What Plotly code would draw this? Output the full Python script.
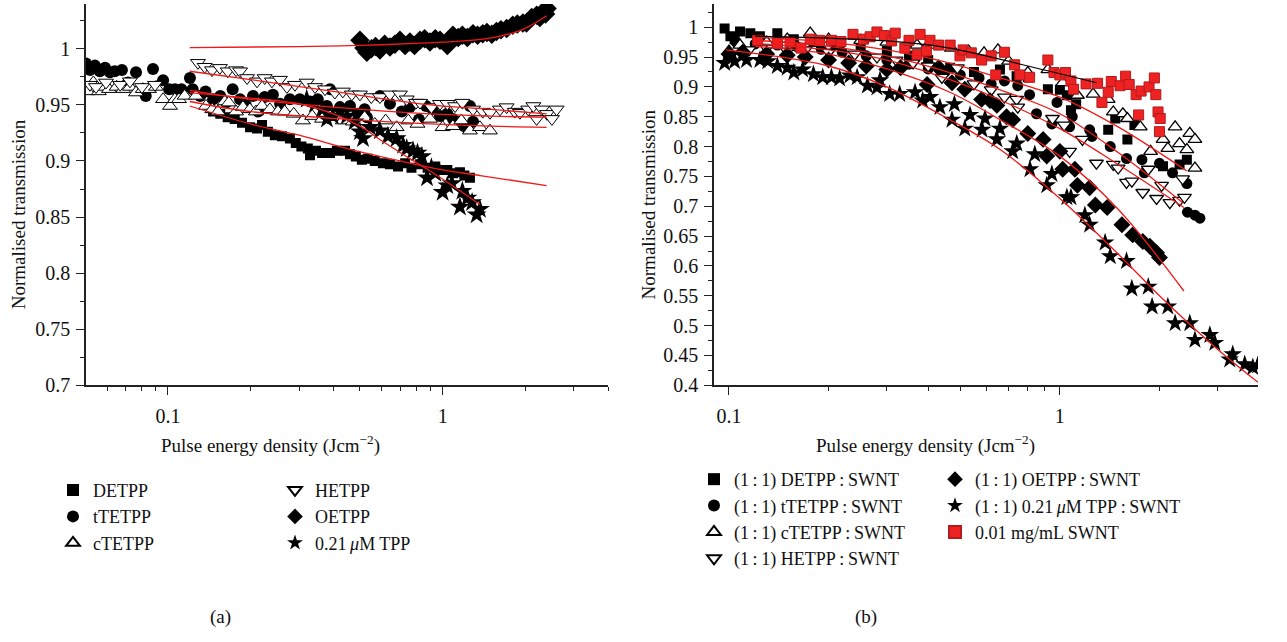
import plotly.graph_objects as go
import math

# ---------------- Panel (a) data ----------------
a_detpp_x = [0.146,0.155,0.165,0.175,0.186,0.199,0.211,0.22,0.231,0.245,0.26,0.278,0.292,0.306,0.323,0.329,0.346,0.364,0.389,0.412,0.441,0.46,0.483,0.508,0.534,0.566,0.606,0.643,0.688,0.73,0.77,0.827,0.882,0.94,0.978,1.04,1.09,1.156,1.2,1.257]
a_detpp_y = [0.944,0.942,0.939,0.9375,0.934,0.93,0.929,0.932,0.926,0.923,0.922,0.92,0.916,0.913,0.911,0.905,0.909,0.907,0.907,0.909,0.909,0.906,0.904,0.901,0.902,0.9,0.898,0.897,0.895,0.898,0.894,0.897,0.894,0.895,0.892,0.892,0.889,0.89,0.887,0.885]

a_ttetpp_x = [0.0503,0.052,0.0542,0.0565,0.059,0.0615,0.064,0.068,0.0715,0.0765,0.083,0.0882,0.096,0.101,0.106,0.112,0.1202,0.123,0.131,0.137,0.146,0.155,0.163,0.172,0.183,0.192,0.204,0.213,0.225,0.241,0.256,0.278,0.302,0.329,0.351,0.379,0.389,0.423,0.46,0.49,0.52,0.53,0.591,0.643,0.71,0.76,0.82,0.87,0.92,0.978,1.04,1.09,1.156,1.2,1.257,1.29]
a_ttetpp_y = [0.987,0.981,0.985,0.98,0.983,0.979,0.98,0.981,0.97,0.979,0.958,0.982,0.972,0.964,0.964,0.964,0.974,0.964,0.958,0.962,0.955,0.958,0.952,0.964,0.955,0.95,0.958,0.944,0.957,0.959,0.951,0.955,0.955,0.953,0.955,0.949,0.964,0.948,0.949,0.942,0.946,0.939,0.958,0.951,0.944,0.948,0.937,0.949,0.946,0.94,0.942,0.9375,0.935,0.931,0.949,0.935]

a_ctetpp_x = [0.051,0.0535,0.056,0.058,0.061,0.065,0.0687,0.0727,0.0765,0.081,0.0853,0.0905,0.096,0.1017,0.106,0.1097,0.115,0.1264,0.1375,0.145,0.152,0.161,0.1665,0.177,0.1875,0.1987,0.209,0.22,0.235,0.2515,0.266,0.287,0.31,0.335,0.364,0.398,0.433,0.471,0.52,0.566,0.62,0.68,0.75,0.81,0.899,1.0,1.09,1.17,1.257,1.367,1.487]
a_ctetpp_y = [0.962,0.97,0.962,0.966,0.964,0.966,0.964,0.966,0.961,0.964,0.964,0.966,0.955,0.949,0.955,0.955,0.958,0.958,0.949,0.946,0.944,0.953,0.952,0.944,0.948,0.946,0.944,0.949,0.946,0.944,0.944,0.942,0.936,0.94,0.9375,0.939,0.936,0.935,0.939,0.933,0.936,0.93,0.936,0.933,0.9375,0.93,0.931,0.936,0.927,0.93,0.927]

a_hetpp_x = [0.052,0.0547,0.0595,0.067,0.0727,0.0804,0.0897,0.1286,0.136,0.1447,0.1545,0.165,0.177,0.183,0.194,0.211,0.225,0.239,0.2556,0.271,0.29,0.32,0.343,0.373,0.405,0.433,0.467,0.5,0.55,0.591,0.643,0.699,0.74,0.8,0.827,0.91,0.978,1.04,1.11,1.18,1.29,1.4,1.487,1.617,1.71,1.83,1.912,2.05,2.14,2.2,2.3,2.4,2.5,2.6]
a_hetpp_y = [0.968,0.966,0.97,0.968,0.971,0.966,0.968,0.9875,0.984,0.981,0.983,0.98,0.981,0.98,0.974,0.971,0.974,0.971,0.9725,0.966,0.968,0.97,0.966,0.964,0.961,0.962,0.9594,0.9594,0.957,0.957,0.9594,0.9594,0.955,0.952,0.952,0.948,0.951,0.951,0.949,0.952,0.946,0.944,0.943,0.946,0.948,0.944,0.943,0.946,0.949,0.9375,0.946,0.942,0.9375,0.946]

a_oetpp_x = [0.5,0.517,0.53,0.55,0.57,0.591,0.615,0.643,0.67,0.699,0.73,0.76,0.79,0.827,0.86,0.899,0.94,0.978,1.04,1.09,1.14,1.18,1.23,1.29,1.34,1.4,1.45,1.51,1.57,1.63,1.71,1.8,1.87,1.96,2.02,2.11,2.2,2.26,2.34,2.37,2.4]
a_oetpp_y = [1.0076,1.0006,0.997,1.0,1.002,0.999,1.004,1.0015,1.004,1.0076,1.003,1.006,1.003,1.0076,1.009,1.006,1.009,1.0076,1.003,1.012,1.01,1.012,1.01,1.0135,1.012,1.0135,1.0145,1.013,1.0155,1.017,1.018,1.021,1.022,1.023,1.023,1.028,1.03,1.028,1.034,1.031,1.036]

a_tpp_x = [0.32,0.343,0.364,0.379,0.398,0.423,0.448,0.478,0.5,0.513,0.544,0.591,0.632,0.68,0.718,0.74,0.78,0.81,0.84,0.877,0.91,0.94,1.0,1.04,1.08,1.156,1.18,1.23,1.28,1.33,1.367]
a_tpp_y = [0.955,0.9507,0.946,0.9375,0.94,0.944,0.94,0.935,0.926,0.92,0.93,0.927,0.922,0.92,0.914,0.911,0.909,0.907,0.904,0.885,0.894,0.889,0.872,0.878,0.88,0.859,0.873,0.867,0.863,0.852,0.857]

# fits (a)
a_fit_hetpp_x = [0.12,0.2,0.4,0.9,1.5,2.39]
a_fit_hetpp_y = [0.980,0.9725,0.962,0.950,0.946,0.942]
a_fit_ttetpp_x = [0.12,0.2,0.4,0.9,1.5,2.39]
a_fit_ttetpp_y = [0.963,0.955,0.948,0.942,0.940,0.939]
a_fit_ctetpp_x = [0.12,0.2,0.4,0.9,1.5,2.39]
a_fit_ctetpp_y = [0.953,0.944,0.938,0.933,0.931,0.930]
a_fit_detpp_x = [0.12,0.2,0.3,0.45,0.7,1.0,1.37,2.39]
a_fit_detpp_y = [0.949,0.933,0.923,0.911,0.900,0.892,0.887,0.878]
a_fit_oetpp_x = [0.12,0.3,0.5,0.83,1.0,1.45,1.9,2.1,2.39]
a_fit_oetpp_y = [1.001,1.002,1.003,1.005,1.006,1.009,1.016,1.021,1.0295]
a_fit_tpp_x = [0.12,0.2,0.3,0.4,0.5,0.6,0.75,0.9,1.1,1.37]
a_fit_tpp_y = [0.961,0.956,0.951,0.942,0.931,0.918,0.903,0.891,0.877,0.861]

# ---------------- Panel (b) data ----------------
b_detpp_x = [0.097,0.101,0.104,0.108,0.116,0.124,0.14,0.157,0.18,0.21,0.25,0.3,0.35,0.4,0.466,0.55,0.659,0.74,0.8,0.92,1.0,1.05,1.08,1.12,1.4,1.47,1.6,1.68,2.05,2.3,2.42]
b_detpp_y = [0.998,0.985,0.98,0.993,0.99,0.985,0.99,0.98,0.975,0.97,0.965,0.96,0.952,0.945,0.932,0.925,0.929,0.918,0.916,0.896,0.895,0.886,0.861,0.871,0.828,0.847,0.812,0.836,0.767,0.77,0.778]

b_ttetpp_x = [0.105,0.12,0.14,0.16,0.19,0.22,0.26,0.3,0.35,0.4,0.45,0.5,0.57,0.62,0.68,0.746,0.81,0.85,0.946,0.98,1.07,1.09,1.23,1.25,1.42,1.59,1.77,1.8,2.0,2.19,2.42,2.43,2.56,2.65]
b_ttetpp_y = [0.975,0.972,0.97,0.968,0.963,0.958,0.952,0.945,0.938,0.93,0.925,0.92,0.915,0.905,0.91,0.902,0.887,0.855,0.838,0.874,0.833,0.85,0.828,0.817,0.8,0.78,0.778,0.756,0.772,0.756,0.738,0.69,0.685,0.68]

b_ctetpp_x = [0.1,0.108,0.13,0.15,0.176,0.2,0.25,0.3,0.35,0.37,0.4,0.47,0.53,0.59,0.65,0.7,0.8,0.92,1.02,1.13,1.26,1.4,1.45,1.55,1.6,1.75,1.88,2.05,2.12,2.23,2.3,2.42,2.47,2.56,2.56]
b_ctetpp_y = [0.96,0.97,0.975,0.98,0.99,0.98,0.978,0.975,0.972,0.97,0.97,0.965,0.96,0.957,0.962,0.943,0.924,0.929,0.907,0.886,0.888,0.879,0.858,0.855,0.847,0.833,0.792,0.812,0.797,0.833,0.805,0.795,0.822,0.812,0.764]

b_hetpp_x = [0.1,0.115,0.13,0.15,0.17,0.2,0.24,0.28,0.32,0.36,0.4,0.44,0.49,0.55,0.62,0.68,0.74,0.746,0.95,1.03,1.07,1.17,1.29,1.45,1.5,1.59,1.65,1.78,1.85,1.96,2.03,2.15,2.3,2.35,2.38]
b_hetpp_y = [0.95,0.962,0.965,0.96,0.962,0.958,0.955,0.95,0.945,0.94,0.935,0.916,0.932,0.905,0.895,0.883,0.879,0.866,0.847,0.836,0.792,0.812,0.772,0.77,0.764,0.74,0.742,0.723,0.762,0.713,0.735,0.706,0.71,0.746,0.715]

b_oetpp_x = [0.1,0.11,0.13,0.15,0.17,0.2,0.23,0.26,0.3,0.33,0.397,0.43,0.472,0.516,0.58,0.615,0.645,0.69,0.72,0.8,0.89,0.913,1.0,1.02,1.11,1.13,1.23,1.28,1.39,1.54,1.66,1.78,1.87,1.96,2.0]
b_oetpp_y = [0.955,0.958,0.955,0.953,0.95,0.945,0.94,0.935,0.929,0.932,0.904,0.932,0.907,0.896,0.879,0.877,0.869,0.85,0.845,0.822,0.812,0.784,0.792,0.762,0.762,0.735,0.731,0.702,0.698,0.669,0.652,0.641,0.633,0.622,0.614]

b_tpp_x = [0.097,0.104,0.113,0.124,0.131,0.14,0.15,0.157,0.167,0.18,0.192,0.204,0.216,0.232,0.244,0.262,0.28,0.286,0.306,0.328,0.365,0.385,0.405,0.434,0.472,0.48,0.516,0.535,0.582,0.594,0.645,0.659,0.72,0.741,0.812,0.84,0.913,0.946,1.05,1.08,1.19,1.23,1.37,1.42,1.59,1.65,1.85,1.9,2.12,2.23,2.47,2.56,2.84,2.94,3.26,3.33,3.62,3.83,3.96]
b_tpp_y = [0.94,0.943,0.945,0.945,0.943,0.935,0.932,0.924,0.929,0.921,0.916,0.916,0.914,0.919,0.916,0.902,0.899,0.911,0.888,0.888,0.891,0.877,0.883,0.866,0.845,0.871,0.83,0.853,0.828,0.847,0.812,0.83,0.792,0.805,0.762,0.787,0.735,0.754,0.715,0.715,0.685,0.669,0.639,0.616,0.608,0.562,0.565,0.532,0.532,0.504,0.504,0.476,0.484,0.471,0.443,0.452,0.435,0.43,0.433]

b_swnt_x = [0.122,0.14,0.153,0.165,0.176,0.188,0.204,0.218,0.237,0.255,0.267,0.28,0.295,0.31,0.318,0.34,0.35,0.378,0.37,0.395,0.405,0.43,0.466,0.499,0.51,0.54,0.58,0.62,0.64,0.68,0.73,0.757,0.81,0.92,0.96,1.0,1.04,1.08,1.1,1.2,1.3,1.34,1.4,1.43,1.52,1.58,1.62,1.7,1.76,1.86,1.93,1.95,1.73,1.98,2.01,2.0]
b_swnt_y = [0.978,0.973,0.975,0.965,0.98,0.978,0.978,0.976,0.988,0.98,0.984,0.992,0.986,0.977,0.99,0.965,0.978,0.988,0.954,0.96,0.978,0.97,0.97,0.952,0.962,0.957,0.945,0.952,0.92,0.958,0.937,0.92,0.916,0.945,0.924,0.92,0.924,0.91,0.896,0.905,0.906,0.874,0.891,0.909,0.902,0.918,0.904,0.887,0.893,0.9,0.915,0.887,0.853,0.858,0.847,0.825]

# fits (b)
b_fit_a_x = [0.12,0.2,0.3,0.465,0.66,1.0,1.5,2.42]
b_fit_a_y = [0.983,0.975,0.962,0.94,0.915,0.883,0.833,0.759]
b_fit_b_x = [0.12,0.2,0.3,0.465,0.66,1.0,1.5,2.35]
b_fit_b_y = [0.978,0.968,0.952,0.924,0.895,0.855,0.79,0.706]
b_fit_c_x = [0.12,0.2,0.3,0.465,0.66,1.0,1.5,2.37]
b_fit_c_y = [0.973,0.962,0.945,0.912,0.878,0.83,0.77,0.698]
b_fit_d_x = [0.12,0.2,0.3,0.465,0.66,1.0,1.5,2.37]
b_fit_d_y = [0.968,0.955,0.93,0.891,0.845,0.784,0.695,0.558]
b_fit_e_x = [0.098,0.2,0.3,0.465,0.66,1.0,1.5,2.0,3.0,3.97]
b_fit_e_y = [0.962,0.935,0.9,0.845,0.795,0.713,0.62,0.55,0.46,0.405]
b_fit_swnt_x = [0.12,0.3,0.465,0.8,1.29]
b_fit_swnt_y = [0.985,0.977,0.965,0.935,0.907]

# ---------------- labels ----------------
T = "\u2009"
a_names = ["DETPP", "tTETPP", "cTETPP", "HETPP", "OETPP", "0.21" + T + "<i>μ</i>M TPP"]
b_names = ["(1" + T + ":" + T + "1) DETPP" + T + ":" + T + "SWNT",
           "(1" + T + ":" + T + "1) tTETPP" + T + ":" + T + "SWNT",
           "(1" + T + ":" + T + "1) cTETPP" + T + ":" + T + "SWNT",
           "(1" + T + ":" + T + "1) HETPP" + T + ":" + T + "SWNT",
           "(1" + T + ":" + T + "1) OETPP" + T + ":" + T + "SWNT",
           "(1" + T + ":" + T + "1) 0.21" + T + "<i>μ</i>M TPP" + T + ":" + T + "SWNT",
           "0.01 mg/mL SWNT"]
x_title = "Pulse energy density (Jcm<sup>−2</sup>)"
y_title = "Normalised transmission"

FONT = "Liberation Serif"
RED = "#f01818"
fig = go.Figure()

def mk(symbol, size, color="black", line_color="black", lw=0):
    return dict(symbol=symbol, size=size, color=color, line=dict(color=line_color, width=lw))

# panel a data traces
a_specs = [
    (a_detpp_x, a_detpp_y, mk("square", 10), "legend"),
    (a_ttetpp_x, a_ttetpp_y, mk("circle", 12), "legend"),
    (a_ctetpp_x, a_ctetpp_y, mk("triangle-up", 13, "white", "black", 1), "legend"),
    (a_hetpp_x, a_hetpp_y, mk("triangle-down", 13, "white", "black", 1), "legend2"),
    (a_oetpp_x, a_oetpp_y, mk("diamond", 15), "legend2"),
    (a_tpp_x, a_tpp_y, mk("star", 15), "legend2"),
]
for (xs, ys, m, lg), nm in zip(a_specs, a_names):
    fig.add_trace(go.Scatter(x=xs, y=ys, mode="markers", marker=m, name=nm,
                             legend=lg, xaxis="x", yaxis="y"))

for fx, fy in [(a_fit_hetpp_x, a_fit_hetpp_y), (a_fit_ttetpp_x, a_fit_ttetpp_y),
               (a_fit_ctetpp_x, a_fit_ctetpp_y), (a_fit_detpp_x, a_fit_detpp_y),
               (a_fit_oetpp_x, a_fit_oetpp_y), (a_fit_tpp_x, a_fit_tpp_y)]:
    fig.add_trace(go.Scatter(x=fx, y=fy, mode="lines", line=dict(color=RED, width=1.3, shape="spline"),
                             showlegend=False, xaxis="x", yaxis="y", hoverinfo="skip"))

# panel b data traces
b_specs = [
    (b_detpp_x, b_detpp_y, mk("square", 10), "legend3"),
    (b_ttetpp_x, b_ttetpp_y, mk("circle", 11), "legend3"),
    (b_ctetpp_x, b_ctetpp_y, mk("triangle-up", 12, "white", "black", 1.3), "legend3"),
    (b_hetpp_x, b_hetpp_y, mk("triangle-down", 12, "white", "black", 1.3), "legend3"),
    (b_oetpp_x, b_oetpp_y, mk("diamond", 13), "legend4"),
    (b_tpp_x, b_tpp_y, mk("star", 14), "legend4"),
    (b_swnt_x, b_swnt_y, mk("square", 10, "#ee2222", "#b51a1a", 1), "legend4"),
]
for (xs, ys, m, lg), nm in zip(b_specs, b_names):
    fig.add_trace(go.Scatter(x=xs, y=ys, mode="markers", marker=m, name=nm,
                             legend=lg, xaxis="x2", yaxis="y2"))

for fx, fy in [(b_fit_a_x, b_fit_a_y), (b_fit_b_x, b_fit_b_y), (b_fit_c_x, b_fit_c_y),
               (b_fit_d_x, b_fit_d_y), (b_fit_e_x, b_fit_e_y)]:
    fig.add_trace(go.Scatter(x=fx, y=fy, mode="lines", line=dict(color=RED, width=1.3, shape="spline"),
                             showlegend=False, xaxis="x2", yaxis="y2", hoverinfo="skip"))
fig.add_trace(go.Scatter(x=b_fit_swnt_x, y=b_fit_swnt_y, mode="lines",
                         line=dict(color="black", width=1.2, shape="spline"),
                         showlegend=False, xaxis="x2", yaxis="y2", hoverinfo="skip"))

W, H = 1287, 642
Y0, Y1 = 1 - 392 / H, 1 - 4 / H

def xaxis(domain, rng, minors, anchor):
    return dict(type="log", domain=domain, range=[math.log10(rng[0]), math.log10(rng[1])],
                tickmode="array", tickvals=[0.1, 1], ticktext=["0.1", "1"],
                ticks="outside", ticklen=8, tickwidth=1.3, tickcolor="#222",
                showline=True, linecolor="#222", linewidth=1.5, showgrid=False, zeroline=False,
                tickfont=dict(family=FONT, size=20, color="#111"), ticklabelstandoff=4,
                minor=dict(tickmode="array", tickvals=minors, ticks="outside", ticklen=4,
                           tickwidth=1.2, tickcolor="#222", showgrid=False),
                anchor=anchor)

def yaxis(domain, rng, anchor):
    return dict(domain=domain, range=rng, tick0=0.4, dtick=0.05,
                ticks="outside", ticklen=8, tickwidth=1.3, tickcolor="#222",
                showline=True, linecolor="#222", linewidth=1.5, showgrid=False, zeroline=False,
                tickfont=dict(family=FONT, size=20, color="#111"), ticklabelstandoff=2,
                minor=dict(dtick=0.025, tick0=0.4, ticks="outside", ticklen=4, tickwidth=1.2,
                           tickcolor="#222", showgrid=False),
                anchor=anchor)

minors_a = [0.05, 0.06, 0.07, 0.08, 0.09, 0.2, 0.3, 0.4, 0.5, 0.6, 0.7, 0.8, 0.9, 2, 3, 4]
minors_b = [0.09, 0.2, 0.3, 0.4, 0.5, 0.6, 0.7, 0.8, 0.9, 2, 3, 4]

def legend(x, y):
    return dict(x=x / W, y=1 - y / H, xanchor="left", yanchor="top", orientation="v",
                bgcolor="rgba(0,0,0,0)", font=dict(family=FONT, size=18, color="#111"),
                itemsizing="constant", tracegroupgap=0, itemwidth=30)

fig.update_layout(
    width=W, height=H, margin=dict(l=0, r=0, t=0, b=0),
    paper_bgcolor="white", plot_bgcolor="white", showlegend=True,
    xaxis=xaxis([86 / W, 608 / W], (0.0503, 4.0), minors_a, "y"),
    yaxis=yaxis([Y0, Y1], [0.7, 1.04], "x"),
    xaxis2=xaxis([714 / W, 1258 / W], (0.0901, 3.97), minors_b, "y2"),
    yaxis2=yaxis([Y0, Y1], [0.4, 1.039], "x2"),
    legend=legend(53, 480), legend2=legend(275, 480),
    legend3=legend(694, 469), legend4=legend(935, 469),
    font=dict(family=FONT, color="#111"),
)

ann = [
    dict(text=x_title, x=270 / W, y=1 - 452 / H),
    dict(text=x_title, x=925 / W, y=1 - 452 / H),
    dict(text=y_title, x=18 / W, y=1 - 218 / H, textangle=-90),
    dict(text=y_title, x=648 / W, y=1 - 208 / H, textangle=-90),
    dict(text="(a)", x=220 / W, y=1 - 628 / H),
    dict(text="(b)", x=866 / W, y=1 - 628 / H),
]
for a in ann:
    fig.add_annotation(xref="paper", yref="paper", showarrow=False, xanchor="center", yanchor="middle",
                       font=dict(family=FONT, size=19, color="#111"), **a)

fig.write_html("out.html")
